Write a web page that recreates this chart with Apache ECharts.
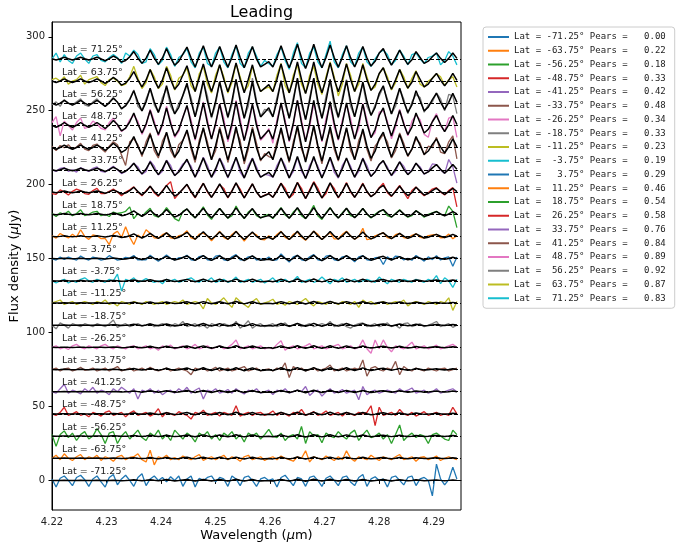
<!DOCTYPE html>
<html>
<head>
<meta charset="utf-8">
<title>Leading</title>
<script src="https://cdn.jsdelivr.net/npm/echarts@6/dist/echarts.min.js"></script>
<style>
  html, body { margin: 0; padding: 0; background: #fff; }
  #chart { width: 676px; height: 547px; }
</style>
</head>
<body>
<div id="chart"></div>
<script>
// Wavelength sampling (µm)
const wavelengths = [
  4.22, 4.22075, 4.2215, 4.22225, 4.223, 4.22375, 4.2245, 4.22525, 4.226, 4.22675,
  4.2275, 4.22825, 4.229, 4.22975, 4.2305, 4.23125, 4.232, 4.23275, 4.2335, 4.23425,
  4.235, 4.23575, 4.2365, 4.23725, 4.238, 4.23875, 4.2395, 4.24025, 4.241, 4.24175,
  4.2425, 4.24325, 4.244, 4.24475, 4.2455, 4.24625, 4.247, 4.24775, 4.2485, 4.24925,
  4.25, 4.25075, 4.2515, 4.25225, 4.253, 4.25375, 4.2545, 4.25525, 4.256, 4.25675,
  4.2575, 4.25825, 4.259, 4.25975, 4.2605, 4.26125, 4.262, 4.26275, 4.2635, 4.26425,
  4.265, 4.26575, 4.2665, 4.26725, 4.268, 4.26875, 4.2695, 4.27025, 4.271, 4.27175,
  4.2725, 4.27325, 4.274, 4.27475, 4.2755, 4.27625, 4.277, 4.27775, 4.2785, 4.27925,
  4.28, 4.28075, 4.2815, 4.28225, 4.283, 4.28375, 4.2845, 4.28525, 4.286, 4.28675,
  4.2875, 4.28825, 4.289, 4.28975, 4.2905, 4.29125, 4.292, 4.29275, 4.2935, 4.29425
];

const latitudes = [-71.25, -63.75, -56.25, -48.75, -41.25, -33.75, -26.25, -18.75, -11.25, -3.75,
                   3.75, 11.25, 18.75, 26.25, 33.75, 41.25, 48.75, 56.25, 63.75, 71.25];
// vertical offset added to each latitude's spectrum (µJy)
const offsets = [0, 15, 30, 45, 60, 75, 90, 105, 120, 135,
                 150, 165, 180, 195, 210, 225, 240, 255, 270, 285];
const pearson = [0.00, 0.22, 0.18, 0.33, 0.42, 0.48, 0.34, 0.33, 0.23, 0.19,
                 0.29, 0.46, 0.54, 0.58, 0.76, 0.84, 0.89, 0.92, 0.87, 0.83];

// normalised emission-line template and its fitted scale per latitude (µJy)
const lineTemplate = [
  0.01, -0.07, 0.01, 0.12, 0.01, -0.07, 0.01, 0.12, 0.01, -0.07,
  0.01, 0.12, 0.01, -0.12, 0.02, 0.2, 0.04, -0.21, -0.1, 0.14,
  0.5, 0.05, -0.3, 0.06, 0.6, 0.06, -0.36, 0.07, 0.7, 0.07,
  -0.42, -0.16, 0.32, 0.8, 0.08, -0.54, 0.18, 0.9, 0.09, -0.54,
  0.09, 0.85, 0.1, -0.55, 0.1, 0.95, 0.1, -0.6, 0.1, 0.85,
  0, -0.54, -0.36, -0.18, -0.54, 0.09, 0.9, 0.1, -0.6, 0.1,
  1, 0.1, -0.65, 0.1, 1, 0.1, -0.6, 0.1, 0.95, 0.1,
  -0.55, 0.1, 0.9, 0.09, -0.54, 0.09, 0.85, 0.08, -0.48, -0.16,
  0.4, 0.7, 0.07, -0.42, 0.07, 0.6, 0.06, -0.36, -0.06, 0.5,
  0.1, -0.3, -0.15, 0.15, 0.4, 0.04, -0.24, 0.04, 0.4, 0.04
];
const fitScale = [0.8, 0.8, 0.9, 1.1, 1.0, 1.3, 1.1, 1.2, 1.0, 1.2,
                  2.2, 3.5, 4.5, 6.5, 9, 15, 17, 17, 13, 10];

// observed flux density per latitude (µJy, before offset)
const flux_m71_25 = [1, -4.5, 1.5, 3, 0, -3.5, 2, 3.5, 0.5, -4, 1, 3, -1, -4.5, 2, 4, -3, 1, 3.5, 0, -4, 2, 4.5, -3.5, 1, 3, 0, 2, -1, 2.5, 0, 3, -4, 1, 3, -4.5, 1.5, 0, 2, 3, -1, 2, 1, -4, 3, 1, -3.5, 2, 3, 0, -4, 1, 2, 0, 1, -4.5, 2, 3.5, 0, -3.5, 2, 1, -4, 2, 3, 0, -4, 1.5, 3, 0, -3.5, 2, 3, -1, -3.5, 2, 4, -4, 1, 2.5, 0, 1, -4.5, 2, 3, 0, -3, 2, 3, -3.5, 1, 2, 0, -10.5, 11, 1, -3, 0.5, 9, 1];
const flux_m63_75 = [0, 2, -1, 3, 0, -1.5, 1, 2.5, -1, 1, 0, 2, -1.5, 1, 0, -2, 1, 2, -1, 0.5, 1, 3, -1, -2.5, 5.5, -4.5, 1, 0, 2, -1, 0.5, -1, 1.5, 0, -1, 1, 2.5, -1.5, 0, 1, -1, 0.5, 2, -1, 1, 0, -2, 1, 2, -1, 0, 1, -1.5, 0, 1, -1, 1.5, 0, -1, -2, 1, 0, 5, -2.5, 1, 0, -1, 1.5, 0, -1.5, 1, -1, 5, 0, -2, 1, 0, -1, 2, 0, -1.5, 1, 0, -1, 1, 2.5, -1, 0, 1, -2, 0.5, 1, -1, 0, 1.5, -1.5, 0, 1, 0, -1];
const flux_m56_25 = [1, -7, 1, 3.5, -1, 2, -3, 1, 3, -2, 0, 5, 1, -5, 2, 3, -5, 0, 3, -2, 1, 4, -1, -3, 2, 0, 4, -2, 1, -3, 4, 1, -2, 2, 0, -4, 2, 0, 3, -2, 1, -3, 2, 0, 3, -2, 1, -4, 2, 0, 2, -2, 1, 4.5, 0, -1, 2, -3, 0, 1, -2, 6.5, -5, 3, 0, 1, -4.5, 2, 0, -1, 3, 0, -2, 2, 4, -3, 1, 4, -1, 0, 2, -2, 1, -5, 1, 7.5, -3, 0, 2, -1, 1, 0, -5, 1, 2, 0, -2, -3, 4, 1];
const flux_m48_75 = [0, -1, 1, 4.5, -1, 0, 1.5, -1, 0, -2, 1, 0, -1.5, 1, 2, -1, 0, 1, -2, 0.5, 2, -1, 0, 1, -1.5, 0, 3.5, -2, 1, 0, -1, 1.5, 0, -1, -3.5, 1, 0, 2.5, -1, 0, 1, -1.5, 1, 0, -1, 5.5, -1.5, 0, 1, -1, 0.5, 1, -1, 0, 2, -1, 1, 0, -1.5, 1, 0, 3, -1, 0, 1.5, -1, 0, 2, -1, 0, 1, -1.5, 1, 0, -1, 1, 0, 1, 5.5, -8, 4.5, -1, 0, 1, -1, 3, 0, -1, 1, -1.5, 0, 1.5, -1, 0, 1, -1, 0, -1, 4.5, 0];
const flux_m41_25 = [0, -1, 2, 5, -1, 1, 0, -1.5, 2, 0, 3, -1, 1, 0, -2, 2, 0, 3, 1, -1, 2, -5, 1, 0, 2, -1, 1, -2, 0, 1, -1, 2, 0, 3, -1, 1, 2.5, -5, 1, 0, 2, -1, 0, 1.5, -1, 2, 0, -1.5, 1, 0, 2, -1, 0, 1, -2, 1, 0, 2, -1, 0, 1, 0, 3.5, -2.5, 0, 1, -3, 0, 2, -1, 0, 1.5, -1, 0, 1, -5.5, 3.5, -2, 0, 1, -1, 0, 1, 0, -1, 2, 0, 1, 2.5, -1, 0, 1, -1, 0, 2, -1, 0, 1, 2, 0];
const flux_m33_75 = [0, 1, -1, 0.5, 1, -1, 0, 1.5, -0.5, 0, 1, -1, 0, 1, -1, 0.5, 2, -1, 0, 1, -1, 0, 1, -0.5, 1.5, 0, -1, 0, 1, -1, 0, 1, 0, -1, -3.5, 1, 0, 1, -1, 0, 1.5, -1, 0, 1, -1, 0, 1, 2, -1, 0, 1, -1, 0, 0.5, -1, 1, 0, 4.5, -5.5, 2, 0, 1, -1, 0, 1, -1, 0, 1, 3, -1, 0, 1, -1, 0, 1, 0, 6.5, -4.5, 1, 2, 0, -1, 1, 0, 5.5, -3.5, 2, 0, -1, 1, 0, -1, 1, 0, -1, 0.5, 1, -1, 0, 1];
const flux_m26_25 = [0, 1, -1, 0, -1.5, 1, 2, 0, -1, 1, 0, -1, 1, 2, 0, -1, 1, 0, -1, 0.5, 1, -1, 0, 1, -1, 0, -2, 1, 0, 1.5, -1, 0, 1, -1, 0, 2, -1, 0, 1, -1, 0, 1, -1, 0, 2, 5, -1, 0, 1, -1, 0, 1, -1, 0, -1, 2, 4.5, -2, 0, 1, -1, 0, 1, 2.5, -1, 0, 1, -1, 0, 1, 2, -1, 0, 1, -1, 0, 5, -1, -4, 5, -1, 5, 0, -3, 1, 0, -1, 1, 3.5, -1, 0, 1, -1, 0, 1.5, -1, 0, 1, 2, 0];
const flux_m18_75 = [0, -2.5, 1.5, 0, -2, 1, 0, -1, 1, 0, -1, 1, 0, -1, 1, 3.5, -1.5, 0, 1, -1, 0, 1, -0.5, 0, 1, -1, 0, 1, 0, -1, 1, 0, 2.5, -1, 0, 1, -1, 0, -2, 1, 0, -1, 1, 0, -1, 2.5, -2, 0, 3, -2, 0, 1, -1, 0, 1, -1, 0, 1.5, -1, 0, 1, -1, 0, 1, -1, 0, 1, 0, 2.5, -1, 0, 1, -1, -2, 0, 1, 1.5, -1, 0, 1, -1, 0, 1.5, -1, 0, -2, 1, 1.5, -1, 0, 1, -1, 0, 1, 2.5, -1, 0, 1, -1.5, 0];
const flux_m11_25 = [0, 1, 2, -1, 0, 1, -1, 0, 1, 0, -1, 1, 0, 2, -1, 0, -2, 1, 0, -1, 1, 0, -1, 1, 0, -1, 0, 1, -1, 0, 1, 0, 2, -1, 0, 1, 0, -4, 3, 0, -1, 1, 3.5, 0, -3, 3.5, 1, -1, -3, 1, 3, -1, 0, 1, 2.5, -1, 0, -1.5, 1, 0, -1, 1, 3, 0, -2, 1, 0, -1, 1, 0, -1, 1, 0, -1, 1, -3, 2, 0, 1, -1, 0, 1, -1, 0, 1, 0, 2, -2, 0, 1, 0, -1, 1, 0, -1, 1, 0, 3.5, -5, 1];
const flux_m3_75 = [0, -1.5, 0, 1, -1.5, 0, -1, 1, 2, 0, -1, 1, 0, -1, 1, 0, 4.5, -7, 1, 0, 2, -1, 0, 1.5, 0, -1, 0, -2, 1, 0, 1, -1, 0, 1, 2, 0, -1, 1, 0, 2, -1, 0, 1, -1, 0, 2.5, -1, 0, 1, -1, 0, 1, -1.5, 0, 2, -1, 0, 1, -1, 0, 3, -1, 0, 1, -1, 0, 2.5, 0, -2, 1, 0, 2, -1, 0, 1, -1, 0, 1, 0, -1, 2.5, 0, -2, 1, 0, -1, 1, 0, -1, 1, 0, -1, 1, 0, 3.5, -2, 2, 0, -4.5, 1];
const flux_p3_75 = [0, -1, 1, -0.5, 1, 0, -1, 1.8, 0, -1, 1, 0.3, -1, -0.3, 2, 0.4, -1, -0.5, 0.8, 0.3, 2.1, -0.9, -0.7, -0.9, 2.3, 0.1, -1.8, 0.2, 2.5, 0.2, -0.9, 0.6, 0.7, 2.3, -0.8, -1.2, 1.4, 2, -0.8, -1.2, 1.7, 2.2, -0.8, -1.3, 1.2, 2.7, -0.8, -0.8, 1.2, 1.7, -1, -0.2, -0.8, 1.1, -1.2, -0.8, 3.2, 0.2, -2.3, 1.2, 2.2, -0.8, -1.3, 1.2, 2.7, -0.8, -1.3, 1.7, 2.2, -0.8, -1.3, 1.2, 1.7, 0.2, -2.2, 1.2, 2, -0.8, -1.1, 0.6, 0.9, -4, 1.2, -0.9, 1.7, 1.3, -0.9, 0.2, -1.1, 2.1, 0.2, -1.7, 1.2, -0.7, 1.9, -0.9, 0.5, 1.1, -5.1, 1.1];
const flux_p11_25 = [0.5, -1.2, 2, 0.4, -1, 1.5, -0.5, 4.5, 0, -2, 1, 0.4, -1.5, -1.4, -5.5, 1.7, 3.5, -0.7, 6.5, -0.5, -5.5, 1, -1, 4.5, 2.1, -1, -1.3, 1.2, 2.5, -1, -1.5, 0.5, 1.1, 3.8, -1, -1.9, 1.6, 2.2, 0.3, -2.9, 0.3, 3.5, -0.6, -2.1, 1.3, 3.5, 0.4, -3.1, 0.4, 2.5, 1, -1.9, -2.3, 0.4, -1.9, 1.3, 3.5, -0.6, -2.1, 1.4, 3, -0.6, -2.6, 0.4, 3.5, 1.4, -2.1, 0.4, 2.5, -1.6, -1.6, 1.4, 3.5, 0.3, -1.9, -0.2, 5.5, -2.2, -1.7, 0.4, 1.4, 2.5, -0.8, -1.5, 1.2, 2.1, -0.8, -1.3, 0.8, 1.8, -0.6, -1.1, 0.5, 1, 1.4, -0.9, -0.8, 1.6, -1.6, 0.5];
const flux_p18_75 = [0.5, -1.5, 1, 0, 2, -1, 0.5, 3, -1, 0, 1.5, 2, -1, 0, -1.5, 1.5, 0.5, 1, 2, 5, -3, 0.5, -1.5, 1.5, 4, -1, -2, 0.5, 4.5, 1, -3, -4.5, 2, 3.5, 0, -2.5, 1, 5, -0.5, -3.5, 1, 4, 0.5, -2.7, -1, 5.5, 0.5, -3, 1.5, 3.5, -1, -2.5, -1, 0, -3, 1, 4.5, -0.5, -2.5, 1.5, 4, -1, -3, 1, 6, -1, -3.5, 1, 4.5, 0, -2.5, 1, 4, -1, -2, 0.5, 4, 0, -2.5, 0, 2, 3, -1, -2, 0.5, 3, 0, -2, -1, 2.5, 0.5, -2, 0, 1, 2, 0, -1, 5.5, 2, -9];
const flux_p26_25 = [-1, -1.5, 1.5, 0, -2, 0.5, 2, 1, -1, -1.5, 1, 2.5, -1, -1, 0.5, 2, 0, -2.5, 0, 1.5, 3.5, 0, -2.5, 1, 4, -0.5, -3, 1, 4.5, 7, -4.5, -1, 2, 5, 0, -4, 1.5, 6, 0, -3.5, 1, 5, 2.5, -4, 1, 6, 2, -4, 1, 5.5, 0, -3.5, -2, -1, -3.5, 1, 6, 2.5, -4, -1.5, 6.5, 2.5, -4.5, 1.5, 7, 2.5, -4, -1, 6, 2.5, -4, 0.5, 6.5, 0, -3.5, 1, 6, 0, -3, -1, 3, 6, -0.5, -3, 1, 4.5, 0, -4.5, 1, 3.5, 0, -2.5, -0.5, 2, 3, 0, -2, 1, 3, -10];
const flux_p33_75 = [0, -1, 1, 1.5, -1, 0, -1.5, 1.5, 0, -1, 1, 2, -1, -1.5, 0.5, 2.5, 0, -2.5, -1, 1.5, 4.5, 2, -3, -1, 6, 2.5, -3.5, -1, 6.5, 3, -4, -0.5, 4, 6, 2.5, -5, 0, 8.5, 3, -5, -1, 8, 3, -5.5, 2.5, 8, -1.5, -5.5, 3, 8, 2, -5, -3, -3.5, -5, 3, 8, 3, -5.5, -1, 8.5, -1, -5.5, 3, 7.5, 2.5, -5, 1.5, 8, -1.5, -5.5, 3, 7.5, 2.5, -5, -1, 8, 3, -4.5, -1, 3.5, 6, 2, -4, -1, 5.5, 2.5, -3, 0, 4.5, 2, -3, -1, 4, 3.5, 0, -2.5, 7, 2, -9];
const flux_p41_25 = [1, -2, 1.5, 0, 2, -1, 0.5, 3, -1, -2, 1.5, 2.5, -0.5, -3, 1, 4, 2, -5, -12, 4, 6, 2, -6, 4, 10, -2, -7, 4.5, 10, -2, -7, 2, 5, 11, -1, -10, 5, 13, 4, -8, -2, 14, 4, -10, 1, 12, 5, -11, -1, 14, 3, -9, -4, -6, -7, 4, 12, 0, -10, 4, 13, -1, -8, 3, 14, 0, -11, 4, 12, -1, -9, 3, 13, -2, -8, 5, 11, -1, -9, 1, 5, 9, 4, -7, -2, 10, 3, -6, -1, 6, 3, -5, 1, 0, 7, -3, -4, 4, 8, -7.5];
const flux_p48_75 = [2, 6, -7, 3, 0, -3, 2, 5, -2, -1, 3, 1, -2, -3, 2, 5, 0, -4, -2, 4, 7, 3, -6, 0, 11, 3, -7, 0, 13, 3, -8, -4, 6, 13, 4, -10, 2, 16, 4, -9, 0, 15, 5, -11, -1, 17, 5, -10, -1, 14, 3, -10, -7, -2, -12, 4, 15, 4, -11, 0, 17, 4, -10, -1, 15, 4, -11, 5, 14, -1, -10, 4, 14, 5, -9, -2, 15, 4, -8, -5, 9, 10, 3, -9, -1, 11, 2, -7, 3, 7, 4, -6, -8, 3, 8, 0, -4, 5, 6, -8];
const flux_p56_25 = [-1, 1, -2, 2.5, 0, -1, 1, 3, -1, -2, 1, 3, 0, -2, 1, 4, 1, -4, -1, 3, 9, -2, -5, 3, 10, -1, -6, 4, 10, -2, -7, 0, 5, 12, 4, -9, 0, 15, 5, -10, -1, 15, 4, -10, -1, 16, 4, -10, -2, 17, 2, -9, -4, -5, -9, 4, 15, -1, -10, 4, 16, -1, -11, 4, 17, -1, -10, 5, 15, -2, -10, 4, 16, -2, -9, 4, 13, -2, -8, -1, 5, 11, 3, -7, -2, 10, 3, -7, 1, 6, 4, -6, -1, 1, 7, 3, -5, 6, 5, -7];
const flux_p63_75 = [1, 2, 0, 3, -2, 0, 1, 4, -2, 1, 2, 3, -1, -3, 1, 2, 0, -3, -2, 3, 10, 2, -5, -1, 8, 3, -5, -2, 10, 4, -6, 2, 4, 9, -3, -7, 5, 10, -2, -8, 4, 11, 3, -8, -1, 12, 3, -7, -3, 10, 1, -7, -5, -4, -7, 4, 12, -3, -8, 4, 11, -2, -8, 4, 10, -2, -9, 3, 13, 3, -10, -2, 12, 4, -7, -2, 12, 3, -6, -4, 5, 9, 3, -6, -1, 8, 3, -5, 2, 7, -2, -4, 0, 2, 5, 3, -3, 1, 3, -4];
const flux_p71_25 = [0, 4, -2, 3, -1, -3, 2, 4, 0, -3, 2, 3, -1, -2, 1, 3, 1, -3, 4, 2, 6, 3, -3, -2, 7, 3, -4, -1, 8, 3, -5, 1, 3, 7, -2, -6, 4, 8, -3, -5, 4, 8, -2, -6, 3, 9, -3, -6, 4, 8, 2, -5, -1, -3, -5, 3, 8, -1, -7, 4, 11, -3, -6, 4, 8, -2, -6, 3, 12, -2, -6, 3, 9, -2, -5, 4, 8, -2, -5, 0, 4, 6, 3, -4, -1, 6, 2, -4, 3, 4, 0, -3, 1, 2, 4, -4, -1, 5, 2, -4];

const fluxes = [flux_m71_25, flux_m63_75, flux_m56_25, flux_m48_75, flux_m41_25,
                flux_m33_75, flux_m26_25, flux_m18_75, flux_m11_25, flux_m3_75,
                flux_p3_75, flux_p11_25, flux_p18_75, flux_p26_25, flux_p33_75,
                flux_p41_25, flux_p48_75, flux_p56_25, flux_p63_75, flux_p71_25];

const xTicks = [4.22, 4.23, 4.24, 4.25, 4.26, 4.27, 4.28, 4.29];
const yTicks = [0, 50, 100, 150, 200, 250, 300];

const palette = ['#1f77b4', '#ff7f0e', '#2ca02c', '#d62728', '#9467bd',
                 '#8c564b', '#e377c2', '#7f7f7f', '#bcbd22', '#17becf'];

const pad6 = v => v.toFixed(2).padStart(6, ' ');
const legendNames = latitudes.map((lat, k) => `Lat = ${pad6(lat)}° Pears = ${pad6(pearson[k])}`);

const series = [];
latitudes.forEach((lat, k) => {
  const color = palette[k % palette.length];
  series.push({
    type: 'line',
    name: legendNames[k],
    data: fluxes[k].map((v, i) => [wavelengths[i], offsets[k] + v]),
    symbol: 'none',
    color: color,
    lineStyle: { color: color, width: 1.3 },
    emphasis: { disabled: true },
    markPoint: {
      silent: true,
      symbol: 'circle',
      symbolSize: 0,
      itemStyle: { color: 'rgba(0,0,0,0)' },
      label: {
        show: true,
        position: 'right',
        distance: 0,
        offset: [10, -9],
        formatter: `Lat = ${lat}°`,
        fontFamily: 'DejaVu Sans',
        fontSize: 9.5,
        color: '#222'
      },
      data: [{ coord: [wavelengths[0], offsets[k]] }]
    }
  });
  series.push({
    type: 'line',
    name: 'fit ' + lat,
    data: lineTemplate.map((t, i) => [wavelengths[i], offsets[k] + t * fitScale[k]]),
    symbol: 'none',
    lineStyle: { color: '#000', width: 1.5 },
    emphasis: { disabled: true },
    markLine: {
      silent: true,
      symbol: ['none', 'none'],
      label: { show: false },
      lineStyle: { color: '#000', width: 1, type: [4, 2] },
      data: [{ yAxis: offsets[k] }]
    }
  });
});

const chart = echarts.init(document.getElementById('chart'), null, { renderer: 'canvas' });
chart.setOption({
  animation: false,
  backgroundColor: '#fff',
  title: {
    text: 'Leading',
    left: 256.5,
    textAlign: 'center',
    top: 0,
    textStyle: { fontFamily: 'DejaVu Sans', fontSize: 16, fontWeight: 'normal', color: '#000' }
  },
  grid: {
    left: 52, right: 215, top: 22, bottom: 37,
    outerBoundsMode: 'none',
    containLabel: false,
    show: true, borderColor: '#000', borderWidth: 1, backgroundColor: 'transparent'
  },
  legend: {
    orient: 'vertical',
    left: 483,
    top: 27,
    data: legendNames,
    icon: 'rect',
    itemWidth: 21,
    itemHeight: 2,
    itemGap: 1.75,
    padding: [4, 9, 4, 5],
    backgroundColor: '#fff',
    borderColor: '#ccc',
    borderWidth: 1,
    borderRadius: 3,
    selectedMode: false,
    textStyle: { fontFamily: 'DejaVu Sans Mono', fontSize: 9, color: '#222', lineHeight: 12 }
  },
  xAxis: {
    type: 'value',
    min: 4.22,
    max: 4.295,
    name: 'Wavelength ({i|μ}m)',
    nameLocation: 'middle',
    nameGap: 19,
    nameMoveOverlap: false,
    nameTextStyle: {
      fontFamily: 'DejaVu Sans', fontSize: 13, color: '#000',
      rich: { i: { fontFamily: 'DejaVu Sans', fontSize: 13, fontStyle: 'italic', color: '#000' } }
    },
    axisLine: { show: true, lineStyle: { color: '#000', width: 1 } },
    axisTick: { show: true, inside: false, length: 3.5, customValues: xTicks, lineStyle: { color: '#000' } },
    axisLabel: {
      customValues: xTicks, margin: 7, fontFamily: 'DejaVu Sans', fontSize: 10, color: '#222',
      formatter: v => v.toFixed(2)
    },
    splitLine: { show: false }
  },
  yAxis: {
    type: 'value',
    min: -20,
    max: 310,
    name: 'Flux density ({i|μ}Jy)',
    nameLocation: 'middle',
    nameGap: 31,
    nameMoveOverlap: false,
    nameTextStyle: {
      fontFamily: 'DejaVu Sans', fontSize: 13, color: '#000',
      rich: { i: { fontFamily: 'DejaVu Sans', fontSize: 13, fontStyle: 'italic', color: '#000' } }
    },
    axisLine: { show: true, lineStyle: { color: '#000', width: 1 } },
    axisTick: { show: true, inside: false, length: 3.5, customValues: yTicks, lineStyle: { color: '#000' } },
    axisLabel: { customValues: yTicks, margin: 7, fontFamily: 'DejaVu Sans', fontSize: 10, color: '#222' },
    splitLine: { show: false }
  },
  tooltip: { show: false },
  series: series
});
</script>
</body>
</html>
